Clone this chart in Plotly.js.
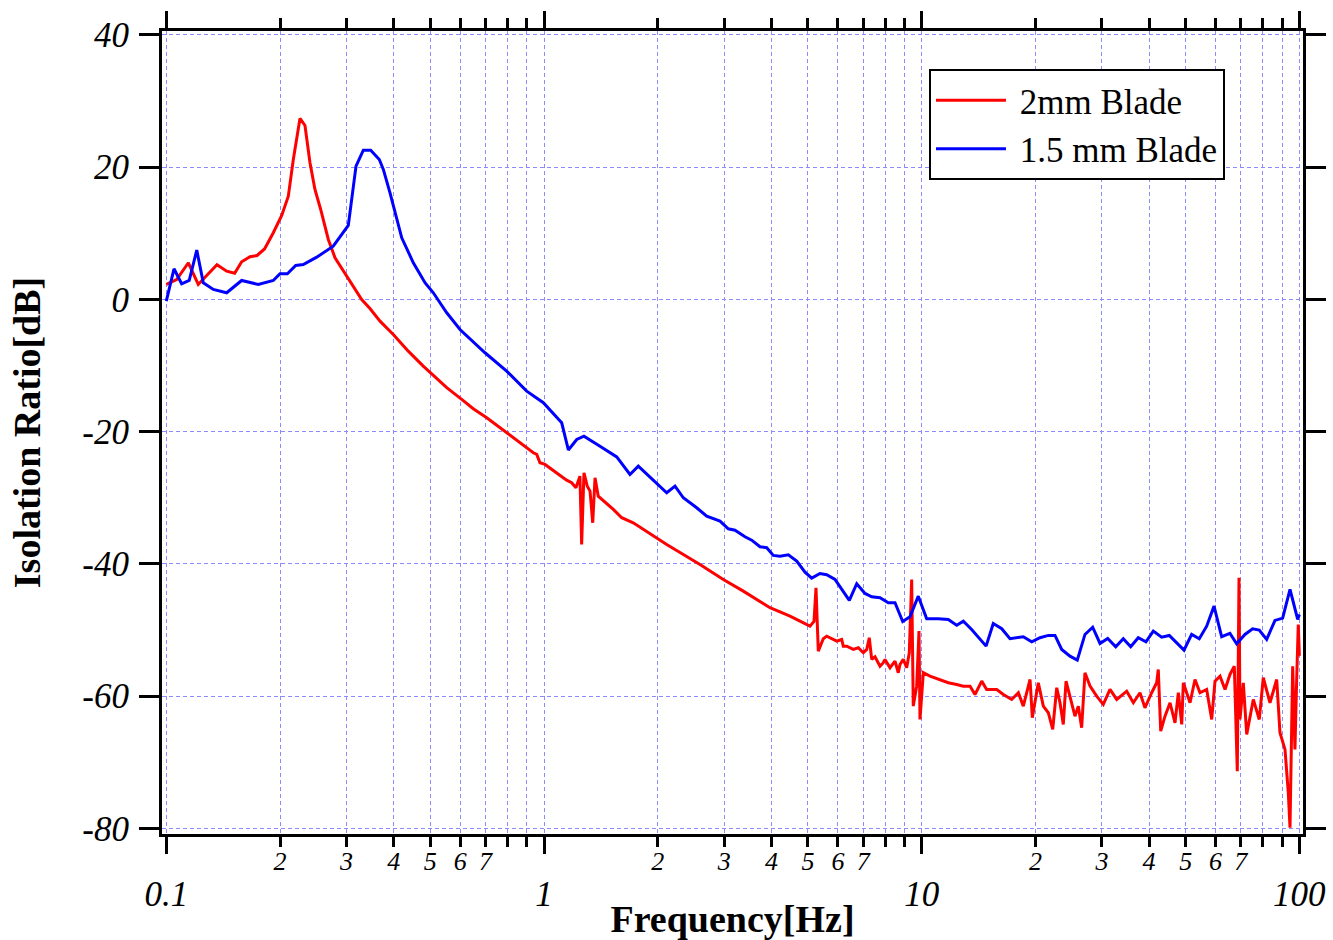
<!DOCTYPE html>
<html><head><meta charset="utf-8">
<script src="https://cdn.plot.ly/plotly-3.0.1.min.js"></script>
<style>html,body{margin:0;padding:0;background:#fff}#chart{width:1333px;height:940px}</style>
</head><body><div id="chart"></div>
<script>
// ---- data ----
const seriesNames = ['2mm Blade', '1.5 mm Blade'];

const freqRed = [0.1,0.1065,0.1144,0.1215,0.1279,0.1362,0.1445,0.1517,0.1583,0.1666,0.1739,0.182,0.192,0.2021,0.2104,0.2169,0.2259,0.2329,0.2401,0.2475,0.2563,0.2685,0.2797,0.3003,0.3126,0.3291,0.3461,0.368,0.399,0.4372,0.479,0.5527,0.6055,0.6498,0.7053,0.7965,0.8905,0.937,0.9566,0.9759,1.006,1.08,1.148,1.184,1.215,1.245,1.258,1.276,1.302,1.324,1.346,1.365,1.392,1.526,1.606,1.723,2.113,2.588,2.984,3.371,3.966,4.481,5.061,5.186,5.25,5.324,5.489,5.604,5.72,5.957,6.14,6.201,6.333,6.591,6.796,7.006,7.153,7.265,7.374,7.523,7.757,7.913,7.996,8.244,8.499,8.67,8.76,8.939,9.127,9.214,9.273,9.408,9.5,9.7,9.837,9.897,10.1,10.52,11.18,11.76,12.38,12.89,13.43,13.84,14.42,14.86,15.8,16.45,17.31,18.03,18.58,19.36,19.63,20.36,20.99,21.64,22.23,22.78,23.24,23.71,24.11,24.7,25.46,25.98,26.52,27.06,27.91,29.06,30.26,31.52,32.84,34.9,36.34,37.84,39.01,40.64,41.9,42.31,42.94,44.08,45.45,46.85,47.81,48.81,49.29,51.34,52.92,54.56,56.83,58.6,59.79,61.64,63.56,65.5,67.26,68.49,69.21,69.63,71.05,72.54,75.51,78.31,80.25,83.59,87.09,88.85,91.61,93.47,94.45,96.0,97.34,98.37,99.33,100];
const dbRed = [2.27,3.02,5.55,2.27,3.63,5.25,4.28,3.96,5.7,6.46,6.65,7.64,10.09,12.7,15.62,21.17,27.37,26.31,20.67,16.64,13.61,9.07,6.31,3.52,2.01,0,-1.36,-3.28,-5.29,-7.82,-10.09,-13.35,-15.12,-16.53,-17.89,-20.16,-22.28,-23.18,-23.44,-24.7,-24.95,-26.21,-27.33,-27.72,-28.48,-26.72,-37.05,-26.21,-28.23,-28.99,-33.77,-26.96,-29.75,-31.76,-33.01,-33.77,-37.05,-40.08,-42.34,-44.11,-46.62,-47.89,-49.41,-48.7,-43.6,-53.19,-51.31,-50.92,-51.16,-51.67,-51.42,-52.43,-52.43,-52.93,-52.67,-53.43,-52.93,-51.16,-54.44,-54.03,-55.46,-54.94,-54.44,-55.7,-54.7,-56.45,-55.2,-54.44,-55.7,-54.44,-53.43,-42.34,-61.5,-58.48,-50.16,-63.52,-56.45,-56.97,-57.47,-57.97,-58.22,-58.48,-58.48,-59.74,-57.72,-58.98,-58.98,-59.74,-60.49,-59.48,-61.5,-57.47,-63.26,-57.97,-61.5,-62.5,-65.03,-58.72,-60.99,-64.27,-57.72,-59.99,-63.02,-61.5,-64.77,-56.45,-58.48,-59.99,-61.25,-58.98,-60.49,-59.24,-60.99,-59.48,-61.75,-59.48,-57.97,-55.96,-65.29,-63.02,-60.99,-64.02,-59.48,-64.27,-57.97,-60.99,-57.47,-59.48,-58.98,-63.52,-57.72,-56.97,-58.98,-56.71,-55.46,-71.33,-42.09,-63.52,-57.97,-65.79,-60.49,-63.52,-57.21,-60.99,-57.47,-65.53,-68.05,-74.6,-79.89,-55.46,-68.05,-57.47,-49.15,-53.9];

const freqBlue = [0.1,0.1048,0.1098,0.115,0.1204,0.1253,0.1332,0.1445,0.1583,0.1752,0.192,0.2,0.2092,0.2201,0.2305,0.2502,0.2767,0.3033,0.3179,0.3324,0.3477,0.3664,0.3755,0.3911,0.4201,0.4508,0.4841,0.5093,0.5527,0.5993,0.698,0.7965,0.9,0.996,1.114,1.16,1.221,1.276,1.407,1.558,1.689,1.777,2.113,2.223,2.338,2.436,2.537,2.697,2.924,3.076,3.204,3.405,3.548,3.732,3.888,4.047,4.216,4.435,4.668,4.91,5.114,5.379,5.604,5.895,6.201,6.433,6.73,7.079,7.374,7.757,8.16,8.499,8.907,9.311,9.795,10.31,11.07,11.76,12.38,12.89,13.56,14.81,15.47,16.29,17.13,18.58,19.56,20.57,21.64,22.54,23.48,24.7,25.82,27.06,28.36,29.66,31.08,32.64,34.18,35.76,37.45,39.25,41.04,43.19,45.24,49.49,51.86,54.32,56.83,59.43,62.27,65.5,68.23,71.76,75.21,78.31,81.92,86.18,90.32,94.45,98.97,100];
const dbBlue = [-0.26,4.64,2.37,2.87,7.46,2.53,1.51,1.01,2.87,2.27,2.87,3.89,3.89,5.14,5.29,6.4,8.06,11.19,20.16,22.58,22.58,21.17,19.66,16.13,9.33,5.55,2.53,1.01,-2.01,-4.54,-8.06,-10.84,-13.87,-15.62,-18.65,-22.76,-21.17,-20.67,-22.19,-23.82,-26.47,-25.21,-29.23,-28.23,-29.99,-30.74,-31.5,-32.77,-33.53,-34.68,-34.89,-35.89,-36.4,-37.4,-37.55,-38.71,-38.82,-38.61,-39.58,-41.24,-42.15,-41.44,-41.63,-42.34,-44.11,-45.52,-42.99,-44.46,-44.96,-45.11,-45.87,-45.87,-48.7,-47.98,-44.87,-48.29,-48.29,-48.39,-49.26,-48.65,-49.91,-52.43,-49.0,-49.8,-51.31,-51.01,-51.77,-51.16,-50.81,-50.81,-52.93,-53.94,-54.55,-50.66,-49.56,-52.02,-51.27,-52.52,-51.31,-52.52,-51.16,-51.77,-50.16,-51.07,-50.81,-53.04,-50.66,-51.31,-49.41,-46.38,-51.01,-50.51,-52.07,-50.66,-49.8,-50.01,-51.42,-48.54,-48.2,-43.86,-48.39,-47.64];

const minorTickVals = [0.2,0.3,0.4,0.5,0.6,0.7,0.8,0.9,1,2,3,4,5,6,7,8,9,10,20,30,40,50,60,70,80,90,100,0.1];
const minorTickText = ['2','3','4','5','6','7','','','','2','3','4','5','6','7','','','','2','3','4','5','6','7','','','',''];
const majorTickVals = [0.1, 1, 10, 100];
const majorTickText = ['0.1', '1', '10', '100'];
const yTickVals = [40, 20, 0, -20, -40, -60, -80];
const yTickText = ['40', '20', '0', '-20', '-40', '-60', '-80'];

// ---- chart ----
const FONT = 'Liberation Serif, Times New Roman, serif';
const XR = [-1.0114, 2.0096];
const YR = [-80.84, 40.6];
const GRID = '#8c8cff';
const NB = '\u00a0';

const traces = [
  {x: freqRed, y: dbRed, name: NB + seriesNames[0], type: 'scatter', mode: 'lines',
   line: {color: '#ff0000', width: 3}, xaxis: 'x', yaxis: 'y'},
  {x: freqBlue, y: dbBlue, name: NB + seriesNames[1], type: 'scatter', mode: 'lines',
   line: {color: '#0000ff', width: 3}, xaxis: 'x', yaxis: 'y'},
  {x: majorTickVals, y: [null, null, null, null], type: 'scatter', mode: 'lines',
   showlegend: false, hoverinfo: 'skip', xaxis: 'x2', yaxis: 'y'}
];

const layout = {
  width: 1333, height: 940,
  margin: {l: 162, r: 30, t: 31, b: 106},
  paper_bgcolor: '#ffffff', plot_bgcolor: '#ffffff',
  showlegend: true,
  legend: {x: 0.6722, y: 0.9527, xanchor: 'left', yanchor: 'top',
    bordercolor: '#000000', borderwidth: 2, bgcolor: '#ffffff',
    font: {family: FONT, size: 35, color: '#000000'}, itemwidth: 70, tracegroupgap: 0},
  xaxis: {type: 'log', range: XR, tickmode: 'array', tickvals: minorTickVals, ticktext: minorTickText,
    ticks: 'outside', ticklen: 10, tickwidth: 3, tickcolor: '#000000',
    showline: true, linewidth: 3, linecolor: '#000000', mirror: 'ticks',
    showgrid: true, gridcolor: GRID, gridwidth: 1, griddash: '4px,3px', zeroline: false,
    tickfont: {family: FONT, size: 26, color: '#000000', style: 'italic'}, ticklabelstandoff: -8,
    title: {text: 'Frequency[Hz]', font: {family: FONT, size: 38, color: '#000000', weight: 'bold'}, standoff: 33},
    automargin: false, fixedrange: true},
  xaxis2: {type: 'log', range: XR, overlaying: 'x', anchor: 'y', side: 'bottom',
    tickmode: 'array', tickvals: majorTickVals, ticktext: majorTickText,
    ticks: 'outside', ticklen: 19, tickwidth: 3, tickcolor: '#000000', mirror: 'ticks',
    showline: false, showgrid: false, zeroline: false,
    tickfont: {family: FONT, size: 35, color: '#000000', style: 'italic'}, ticklabelstandoff: 10,
    automargin: false, fixedrange: true},
  yaxis: {range: YR, tickmode: 'array', tickvals: yTickVals, ticktext: yTickText,
    ticks: 'outside', ticklen: 20, tickwidth: 3, tickcolor: '#000000',
    showline: true, linewidth: 3, linecolor: '#000000', mirror: 'ticks',
    showgrid: true, gridcolor: GRID, gridwidth: 1, griddash: '4px,3px', zeroline: false,
    tickfont: {family: FONT, size: 35, color: '#000000', style: 'italic'}, ticklabelstandoff: 3,
    title: {text: 'Isolation Ratio[dB]', font: {family: FONT, size: 38, color: '#000000', weight: 'bold'}, standoff: 31},
    automargin: false, fixedrange: true}
};

Plotly.newPlot('chart', traces, layout, {displayModeBar: false, staticPlot: true});
</script>
</body></html>
